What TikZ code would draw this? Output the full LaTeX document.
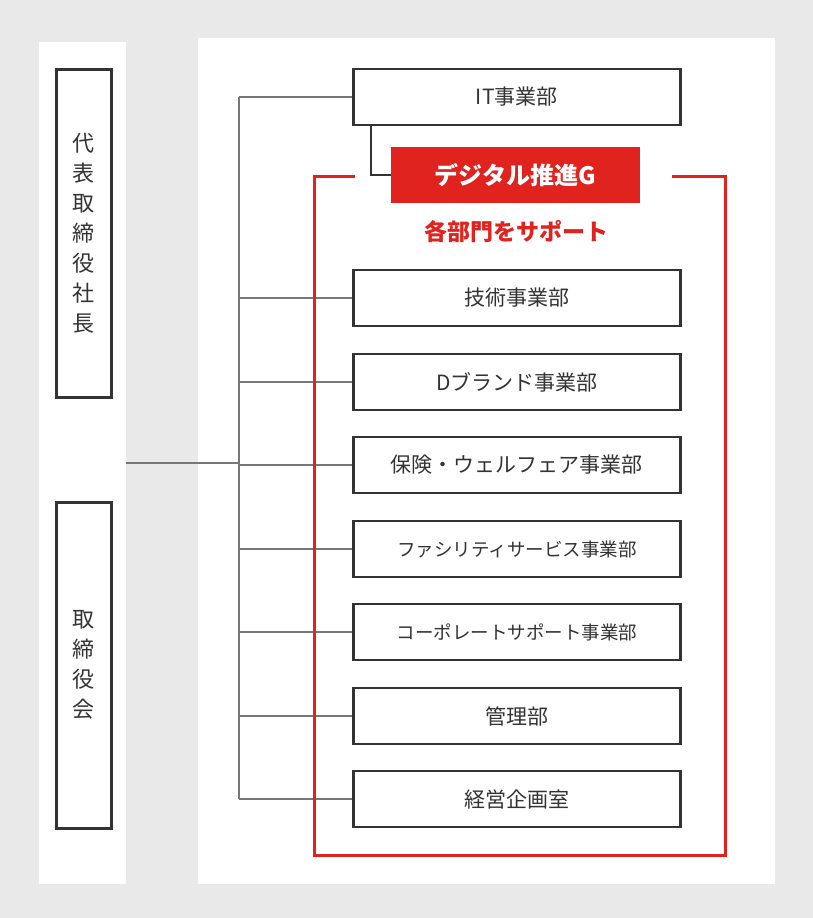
\documentclass[tikz,border=0pt]{standalone}
\usepackage{fontspec}
\setmainfont{Noto Sans CJK JP}
\definecolor{bg}{HTML}{E9E9E9}
\definecolor{rd}{HTML}{E0231E}
\definecolor{dk}{HTML}{333333}
\definecolor{ln}{HTML}{777777}
\begin{document}
\begin{tikzpicture}[x=1pt,y=-1pt,
  dept/.style={draw=dk,line width=2.6pt,fill=white,minimum width=327pt,minimum height=56pt,anchor=west,font=\fontsize{21}{24}\selectfont,text=dk},
  side/.style={draw=dk,line width=2.6pt,minimum width=55pt,anchor=north west,font=\fontsize{22}{30}\selectfont,text=dk,align=center},
  conn/.style={draw=ln,line width=2pt}]
\useasboundingbox (0,0) rectangle (813,918);
\fill[bg] (0,0) rectangle (813,918);
\fill[white] (39,42) rectangle (126,884);
\fill[white] (198,38) rectangle (775,884);
\node[side,minimum height=328pt] (ceo) at (55,68) {代\\表\\取\\締\\役\\社\\長};
\node[side,minimum height=326pt] (board) at (55,501) {取\\締\\役\\会};
\node[dept] (it) at (352,97) {IT事業部};
\node[dept] (d1) at (352,298) {技術事業部};
\node[dept] (d2) at (352,382) {Dブランド事業部};
\node[dept] (d3) at (352,465) {保険・ウェルフェア事業部};
\node[dept,font=\fontsize{18.5}{20}\selectfont] (d4) at (352,549) {ファシリティサービス事業部};
\node[dept,font=\fontsize{18.5}{20}\selectfont] (d5) at (352,632) {コーポレートサポート事業部};
\node[dept] (d6) at (352,716) {管理部};
\node[dept] (d7) at (352,799) {経営企画室};
\coordinate (top) at (239,97);
\coordinate (bot) at (239,799);
\coordinate (mid) at (239,463);
\coordinate (lft) at (126,463);
\draw[conn] (top) -- (bot);
\draw[conn] (lft) -- (mid);
\foreach \n in {it,d1,d2,d3,d4,d5,d6,d7} \draw[conn] (239,0 |- \n.west) -- (\n.west);
\draw[rd,line width=3pt] (355,176) -- (314,176) -- (314,855) -- (725,855) -- (725,176) -- (672,176);
\node[fill=rd,text=white,minimum width=249pt,minimum height=56pt,font=\fontsize{24}{28}\selectfont\bfseries] (dg) at (515.5,175) {デジタル推進G};
\draw[dk,line width=2.6pt] (it.south west) ++(19,0) |- (dg.west);
\node[text=rd,font=\fontsize{23}{28}\selectfont\bfseries] (sup) at (516,232) {各部門をサポート};
\end{tikzpicture}
\end{document}
